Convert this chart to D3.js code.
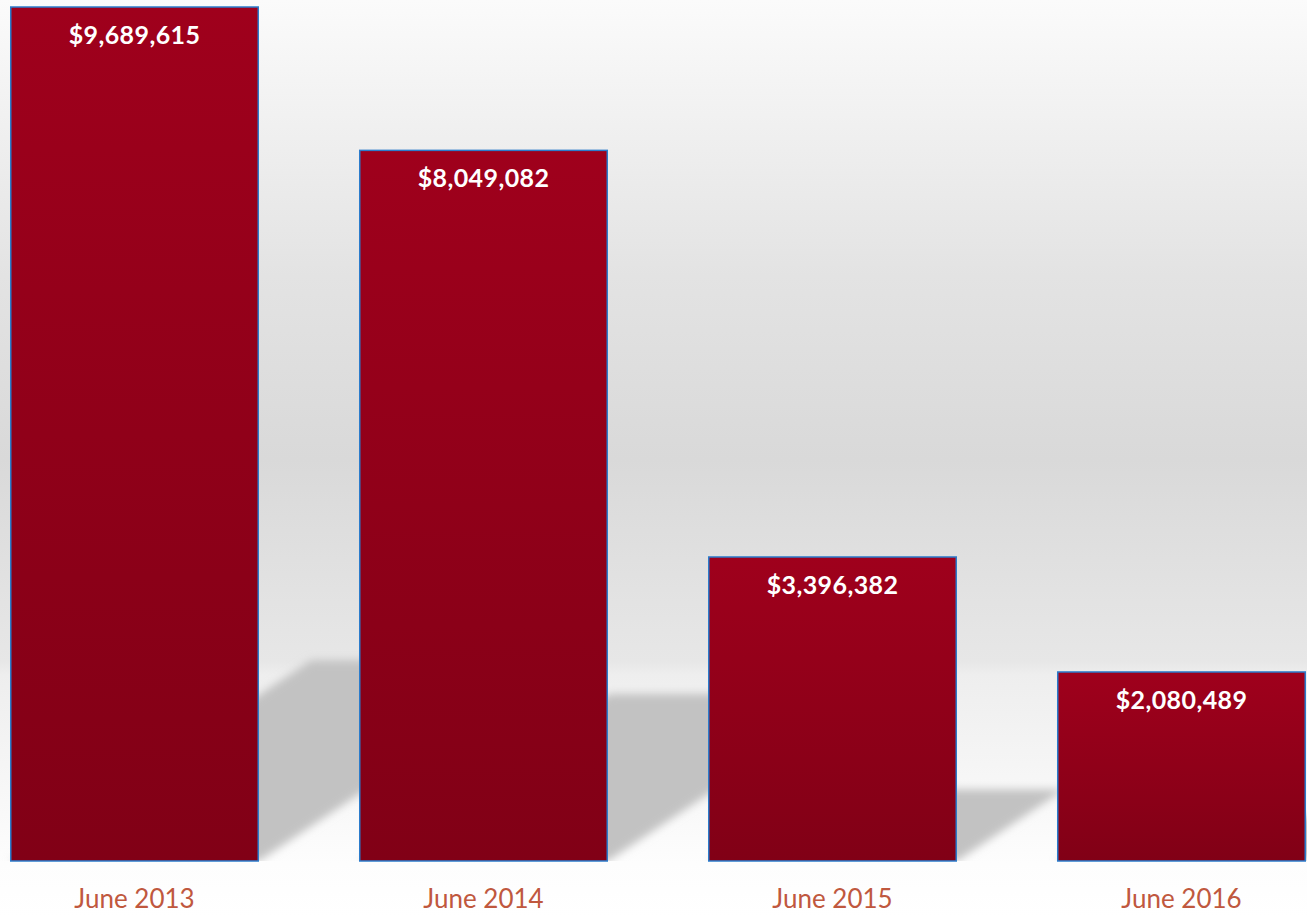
<!DOCTYPE html>
<html>
<head>
<meta charset="utf-8">
<script src="https://cdn.jsdelivr.net/npm/d3@7"></script>
<style>
  body { margin: 0; background: #fff; }
  svg { display: block; }
</style>
</head>
<body>
<script>
var width = 1307
var height = 918

// data
var periods = ["June 2013", "June 2014", "June 2015", "June 2016"];
var amounts = [9689615, 8049082, 3396382, 2080489];
var valueLabels = ["$9,689,615", "$8,049,082", "$3,396,382", "$2,080,489"];

var data = periods.map((p, i) => { return {name: p, value: amounts[i], label: valueLabels[i]}; });

var baseY = 861;

var svg = d3.select("body")
  .append("svg")
    .attr("width", width)
    .attr("height", height);

var defs = svg.append("defs");

// wall + floor background
var bg = defs.append("linearGradient")
  .attr("id", "bg")
  .attr("x1", 0).attr("y1", 0).attr("x2", 0).attr("y2", 1);
[[0, "#fbfbfb"], [0.1, "#f3f3f3"], [0.3, "#e3e3e3"], [0.5, "#d9d9d9"], [0.72, "#e7e7e7"],
 [0.735, "#eeeeee"], [0.86, "#f7f7f7"], [0.94, "#fdfdfd"], [1, "#ffffff"]]
  .forEach((s) => { bg.append("stop").attr("offset", s[0]).attr("stop-color", s[1]); });

var barGrad = defs.append("linearGradient")
  .attr("id", "barGrad")
  .attr("x1", 0).attr("y1", 0).attr("x2", 0).attr("y2", 1);
barGrad.append("stop").attr("offset", 0).attr("stop-color", "#9f001c");
barGrad.append("stop").attr("offset", 1).attr("stop-color", "#810016");

defs.append("filter")
  .attr("id", "blur")
  .attr("x", "-20%").attr("y", "-20%").attr("width", "140%").attr("height", "140%")
  .append("feGaussianBlur")
  .attr("stdDeviation", 4.5);

defs.append("clipPath")
  .attr("id", "plotClip")
  .append("rect")
  .attr("x", 0).attr("y", 0).attr("width", width).attr("height", baseY);

svg.append("rect")
  .attr("width", width)
  .attr("height", height)
  .attr("fill", "url(#bg)");

var x = d3.scaleBand()
  .domain(periods)
  .range([10, 1306])
  .paddingInner(0.2865)
  .paddingOuter(0);

var y = d3.scaleLinear()
  .domain([-82400, 9689615])
  .range([baseY, 7]);

// shadows cast on the floor
var shadows = svg.append("g")
  .attr("clip-path", "url(#plotClip)")
  .append("g")
  .attr("filter", "url(#blur)");

shadows.selectAll("path")
  .data(data)
  .enter()
  .append("path")
  .attr("fill", "#c2c2c2")
  .attr("d", (d) => {
    var h = (baseY - y(d.value)) * 0.235;
    var x0 = x(d.name), x1 = x(d.name) + x.bandwidth();
    var sh = h * 1.5;
    return "M" + x0 + "," + baseY + "L" + x1 + "," + baseY +
      "L" + (x1 + sh) + "," + (baseY - h) + "L" + (x0 + sh) + "," + (baseY - h) + "Z";
  });

svg.selectAll("rect.bar")
  .data(data)
  .enter()
  .append("rect")
  .attr("class", "bar")
  .attr("x", (d) => { return x(d.name) + 0.75; })
  .attr("y", (d) => { return y(d.value); })
  .attr("width", x.bandwidth() - 1.5)
  .attr("height", (d) => { return baseY - y(d.value); })
  .attr("fill", "url(#barGrad)")
  .attr("stroke", "#2b7ccc")
  .attr("stroke-width", 1.5);

svg.selectAll("text.value")
  .data(data)
  .enter()
  .append("text")
  .attr("class", "value")
  .attr("x", (d) => { return x(d.name) + x.bandwidth() / 2; })
  .attr("y", (d) => { return y(d.value) + 37; })
  .attr("text-anchor", "middle")
  .attr("font-family", "Lato, 'Open Sans', sans-serif")
  .attr("font-weight", "bold")
  .attr("font-size", "25px")
  .attr("letter-spacing", "0.4px")
  .style("fill", "white")
  .text((d) => { return d.label; });

var bottomAxis = d3.axisBottom(x).tickSize(0).tickPadding(0);

var ax = svg.append("g")
  .attr("class", "x axis")
  .attr("transform", "translate(0, " + baseY + ")")
  .call(bottomAxis);

ax.select(".domain").remove();
ax.selectAll("text")
  .attr("dy", null)
  .attr("y", 47)
  .attr("font-family", "Lato, 'Open Sans', sans-serif")
  .attr("font-size", "26px")
  .style("fill", "#c0583e");
</script>
</body>
</html>
